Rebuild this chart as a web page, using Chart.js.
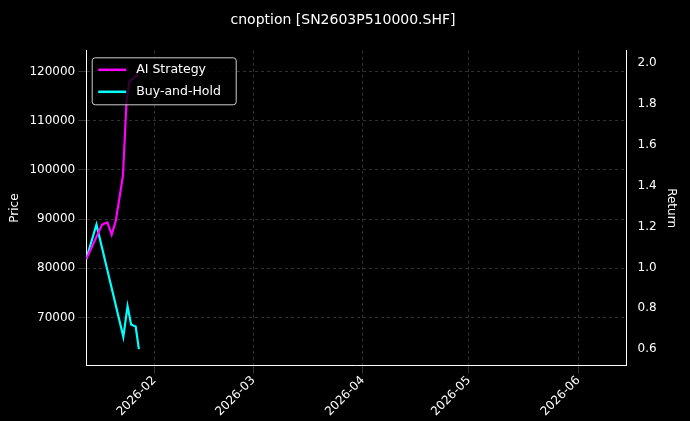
<!DOCTYPE html><html><head><meta charset="utf-8">
<script src="https://cdn.jsdelivr.net/npm/chart.js@4"></script>
<style>body{margin:0;background:#000}#w{width:690px;height:421px}</style></head><body><div id="w"><canvas id="c"></canvas></div>
<script>
const titleText = 'cnoption [SN2603P510000.SHF]';
const seriesNames = ['AI Strategy', 'Buy-and-Hold'];
// days since 2026-01-01
const aiDays = [11.7, 16.2, 17.7, 18.9, 20.1, 22.1, 23.1, 23.9, 25.9, 26.9];
const aiReturn = [1.04, 1.21, 1.22, 1.16, 1.23, 1.45, 1.81, 1.91, 1.94, 1.99];
const bhDays = [11.7, 14.6, 22.2, 23.4, 24.4, 25.7, 26.6];
const bhReturn = [1.04, 1.21, 0.66, 0.81, 0.72, 0.71, 0.60];
const monthTicks = [31, 59, 90, 120, 151];
const monthLabels = ['2026-02', '2026-03', '2026-04', '2026-05', '2026-06'];
const priceTicks = [70000, 80000, 90000, 100000, 110000, 120000];
const returnTicks = [0.6, 0.8, 1.0, 1.2, 1.4, 1.6, 1.8, 2.0];

const grid = {color: 'rgba(160,160,160,0.5)', lineWidth: 0.6};
const fontF = 'DejaVu Sans';
const legendPlugin = {
  id: 'inlegend',
  afterDraw(ch) {
    const c = ch.ctx, a = ch.chartArea;
    const x = a.left + 6, y = a.top + 7;
    c.save();
    c.fillStyle = 'rgba(0,0,0,0.8)';
    c.strokeStyle = '#ccc'; c.lineWidth = 1;
    c.beginPath(); c.roundRect(x, y, 144, 47, 3); c.fill(); c.stroke();
    c.font = '12.5px ' + fontF; c.textBaseline = 'middle';
    ch.data.datasets.forEach((d, i) => {
      const yy = y + 12 + i * 22;
      c.strokeStyle = d.borderColor; c.lineWidth = 2.5;
      c.beginPath(); c.moveTo(x + 6, yy); c.lineTo(x + 34, yy); c.stroke();
      c.fillStyle = '#fff'; c.fillText(d.label, x + 44, yy);
    });
    c.restore();
  }
};
new Chart(document.getElementById('c'), {
  type: 'line',
  data: {datasets: [
    {label: seriesNames[0], data: aiDays.map((d, i) => ({x: d, y: aiReturn[i]})), borderColor: '#ff00ff', borderWidth: 2.2, pointRadius: 0, yAxisID: 'y1'},
    {label: seriesNames[1], data: bhDays.map((d, i) => ({x: d, y: bhReturn[i]})), borderColor: '#00ffff', borderWidth: 2.2, pointRadius: 0, yAxisID: 'y1'}
  ]},
  options: {
    animation: false, responsive: true, maintainAspectRatio: false,
    layout: {padding: {left: 4, right: 8, top: 2, bottom: 2}},
    plugins: {
      legend: {display: false}, tooltip: {enabled: false},
      title: {display: true, text: titleText, color: '#fff', font: {family: fontF, size: 14, weight: 'normal'}, padding: {top: 10, bottom: 22}}
    },
    scales: {
      x: {type: 'linear', min: 11.7, max: 164.6,
        afterBuildTicks: s => { s.ticks = monthTicks.map(v => ({value: v})); },
        ticks: {color: '#fff', font: {family: fontF, size: 12}, maxRotation: 45, minRotation: 45, padding: 0,
          callback: v => monthLabels[monthTicks.indexOf(v)]},
        grid: grid, border: {color: '#fff', dash: [3, 3]}},
      y: {position: 'left', min: 60250, max: 124240,
        afterBuildTicks: s => { s.ticks = priceTicks.map(v => ({value: v})); },
        ticks: {color: '#fff', font: {family: fontF, size: 12}, callback: v => String(v)},
        title: {display: true, text: 'Price', color: '#fff', font: {family: fontF, size: 12}},
        grid: grid, border: {color: '#fff', dash: [3, 3]}},
      y1: {position: 'right', min: 0.52, max: 2.061,
        afterBuildTicks: s => { s.ticks = returnTicks.map(v => ({value: v})); },
        ticks: {color: '#fff', font: {family: fontF, size: 12}, callback: v => v.toFixed(1)},
        title: {display: true, text: 'Return', color: '#fff', font: {family: fontF, size: 12}},
        grid: {display: false}, border: {color: '#fff'}}
    }
  },
  plugins: [legendPlugin]
});
</script></body></html>
